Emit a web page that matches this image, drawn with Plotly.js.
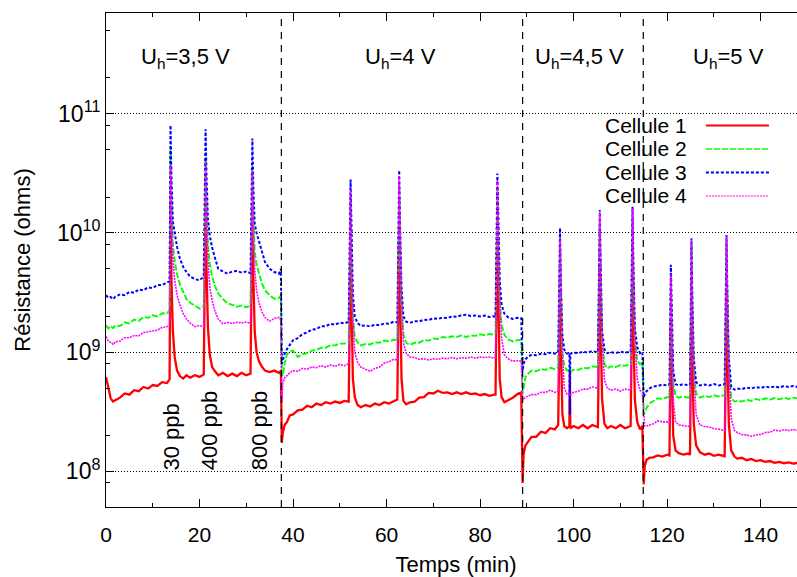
<!DOCTYPE html>
<html>
<head>
<meta charset="utf-8">
<script src="https://cdn.plot.ly/plotly-3.0.1.min.js"></script>
<style>
html,body{margin:0;padding:0;overflow:hidden;background:#fff;}
#chart{width:806px;height:577px;}
</style>
</head>
<body>
<div id="chart"></div>
<script>
// Values are in units of 1e8 ohms
const UNIT = 1e8;

// Segment 1 : Uh = 3,5 V
const t1 = [0,0.5,1,1.5,2,3,4,5,6,7,8,9,10,11,12,13,13.6,13.8,14.0,14.3,14.7,15.2,15.8,16.5,17.2,18,19,20,20.9,21.3,21.5,21.8,22.2,22.7,23.3,24,25,26,27,28,29,30,30.9,31.3,31.5,31.8,32.2,32.7,33.3,34,35,36,37,37.4];
const cell1_s1 = [6.2,4.9,4.1,3.85,3.95,4.15,4.5,4.4,4.8,4.7,5.1,4.95,5.3,5.2,5.6,5.5,5.9,180,40,15,9,7,6.3,6.0,6.4,6.1,6.4,6.2,6.5,190,50,16,9.5,7.5,6.9,6.4,6.7,6.3,6.6,6.3,6.7,6.4,6.6,170,45,15,10,8.4,7.6,7.0,6.8,7.0,6.7,7.0];
const cell2_s1 = [16.8,15.8,16.6,15.9,16.7,16.6,17.8,17.4,18.8,18.3,19.7,19.4,20.4,19.9,21.2,21.0,22.5,500,200,80,58,45,37,32,28,26,24.5,23.2,24.3,470,190,80,55,43,36,31,28,25.5,25,24,24.6,23.8,24.4,360,150,70,54,45,38,33,30,28,28.5,30];
const cell3_s1 = [30,28.5,29,27.8,29.2,30.5,30,32,31.5,33.5,33,35,34.5,36.5,36.5,38.5,39,800,300,125,100,76,61,52,47,43,41,40,43,740,300,130,95,75,62,50,47.5,45.5,47.5,48,46.5,47.5,46,620,250,120,100,85,70,57,50,47,45.5,50];
const cell4_s1 = [13.5,12.4,12.1,11.6,12.2,12.4,13.2,13.2,13.8,13.7,14.6,14.8,15.2,15.3,16.1,16.3,17,380,150,60,40,30,25,21,19,17.5,16.4,16.7,16.4,400,150,60,35,27,22,19,17.3,17.7,17.4,17.8,17.6,17.9,17.4,330,120,50,33,26,22,19.5,18.2,19.2,19.6,18.5];

// Segment 2 : Uh = 4 V
const t2 = [37.6,37.8,38.2,38.7,39.3,40,41,42,43,44,45,46,47,48,49,50,51,51.9,52.3,52.5,52.8,53.2,53.8,54.5,55.5,56.5,57.5,58.5,59.5,60.5,61.5,62.3,62.7,62.9,63.2,63.6,64.2,65,66,67,68,69,70,71,72,73,74,75,76,77,78,79,80,81,82,83,83.3,83.7,83.9,84.2,84.6,85.2,86,87,88,88.8];
const cell1_s2 = [1.73,2.1,2.45,2.6,2.95,3.0,3.25,3.3,3.55,3.45,3.7,3.6,3.8,3.7,3.85,3.75,3.9,3.85,72,20,6,4.2,3.6,3.45,3.6,3.5,3.7,3.6,3.8,3.7,3.9,4.0,88,22,6,3.9,3.65,3.8,3.85,4.15,4.2,4.55,4.5,4.75,4.55,4.6,4.45,4.6,4.45,4.6,4.45,4.5,4.35,4.45,4.3,4.4,4.4,95,25,6,4.2,3.8,3.95,4.15,4.45,4.6];
const cell2_s2 = [7,6.3,8,9.6,10.1,10.3,9.1,9.6,9.8,10.3,10.4,10.9,10.9,11.4,11.4,11.8,11.8,12.1,200,60,20,13.5,12,11.4,11.7,11.6,12.1,12.0,12.5,12.3,12.7,12.6,240,70,25,14,12,11.5,12.0,12.0,12.6,12.5,13.0,12.9,13.4,13.2,13.6,13.4,13.8,13.4,13.8,13.7,14.1,13.9,14.2,14.0,14.3,230,75,28,17,14,12.8,12.3,12.6,12.7];
const cell3_s2 = [8,8.6,9.7,10.6,11.4,12.6,13.1,14.2,14.6,15.5,15.6,16.5,16.5,17.3,17.0,17.7,17.4,18.0,280,90,30,20,17.5,16.6,16.8,16.4,17.0,16.8,17.4,17.3,18.0,17.8,335,110,35,20,18,17.6,18.2,18.1,18.7,18.6,19.2,19.0,19.5,19.3,20.0,19.8,20.4,20.6,20.1,20.3,19.9,20.3,19.7,20.0,19.8,315,110,40,25,21,19.6,19.0,19.4,19.3];
const cell4_s2 = [3.8,5.5,6.1,6.4,6.7,7.0,6.9,7.3,7.2,7.5,7.4,7.7,7.5,7.8,7.6,7.9,7.7,8.0,230,70,20,10,8.2,7.5,7.2,6.9,7.3,7.5,8.1,8.3,8.7,8.6,300,90,28,12,9.8,9.1,9.0,8.7,8.8,8.6,8.8,8.7,8.9,8.8,9.0,8.8,9.0,8.9,9.1,8.9,9.1,9.0,9.1,8.9,9.0,280,85,28,13,9.5,8.8,8.4,8.5,8.4];

// Segment 3 : Uh = 4,5 V
const t3 = [89.1,89.3,89.7,90.3,91,92,93,94,95,96,96.7,97.1,97.3,97.6,98,98.6,99.1,99.2,99.3,100,101,102,103,104,105.2,105.6,105.8,106.1,106.6,107.2,108,109,110,111,112.2,112.6,112.8,113.1,113.6,114.2,114.7];
const cell1_s3 = [0.8,1.4,1.65,1.8,1.95,1.95,2.15,2.1,2.3,2.25,2.45,27,8,3,2.4,2.3,2.4,7,2.3,2.4,2.3,2.45,2.3,2.45,2.35,54,15,4,2.5,2.3,2.4,2.3,2.45,2.3,2.4,58,15,4,2.6,2.25,2.4];
const cell2_s3 = [4.5,5.2,6.2,6.6,7.0,6.9,7.2,7.1,7.4,7.2,7.4,80,25,10,7.6,7.0,7.1,6.8,6.9,7.1,7.1,7.4,7.3,7.6,7.5,120,38,12,8,7.3,7.6,7.5,7.8,7.7,7.9,130,42,13,8.5,7.9,8.3];
const cell3_s3 = [7,8,8.7,9.2,9.5,9.4,9.7,9.6,9.9,9.7,10.0,110,35,14,10.5,9.7,9.8,3,9.7,9.9,9.8,10.1,9.9,10.2,10.0,156,50,15,10.5,9.8,10.0,9.8,10.1,9.9,10.1,166,55,16,11,9.8,10.0];
const cell4_s3 = [4.0,4.0,4.2,4.3,4.4,4.4,4.6,4.6,4.8,4.6,4.7,90,28,10,5,4.4,4.5,4.5,4.4,4.6,4.7,4.9,4.9,5.1,5.0,150,45,13,5.8,5.0,4.8,4.9,4.7,4.9,4.8,160,48,14,6,4.8,4.6];

// Segment 4 : Uh = 5 V
const t4 = [115.0,115.2,115.6,116.2,117,118,119,120,120.5,120.8,121.0,121.3,121.8,122.5,123.5,124.5,124.9,125.2,125.4,125.7,126.2,127,128,129,130,131,132.3,132.7,132.9,133.2,133.7,134.4,135,136,137,138,139,140,141,142,143,144,145,146,147,148,149,149.7];
const cell1_s4 = [0.78,1.1,1.25,1.3,1.31,1.36,1.33,1.38,1.36,19,6,2,1.5,1.42,1.38,1.41,1.38,29,8,2.5,1.65,1.45,1.38,1.41,1.35,1.38,1.34,31,9,2.5,1.5,1.33,1.28,1.3,1.24,1.27,1.22,1.24,1.2,1.22,1.18,1.2,1.17,1.19,1.16,1.18,1.15,1.17];
const cell2_s4 = [3.0,3.1,3.4,3.7,3.85,4.1,4.05,4.2,4.15,40,13,5.5,4.3,4.15,4.25,4.15,4.25,80,25,7.5,4.5,4.15,4.3,4.2,4.35,4.25,4.35,82,26,7.5,4.1,3.85,3.9,3.85,4.0,3.9,4.05,3.95,4.1,4.0,4.12,4.02,4.15,4.05,4.15,4.08,4.15,4.1];
const cell3_s4 = [4.2,4.4,4.7,4.95,5.15,5.2,5.35,5.25,5.35,54,18,7,5.4,5.25,5.4,5.25,5.35,90,28,9,5.6,5.25,5.35,5.25,5.4,5.25,5.4,96,30,9,5.1,4.85,4.95,4.9,5.05,4.95,5.1,5.0,5.15,5.05,5.15,5.05,5.2,5.1,5.2,5.1,5.2,5.15];
const cell4_s4 = [2.6,2.4,2.4,2.45,2.5,2.65,2.6,2.6,2.5,45,14,4,2.6,2.45,2.42,2.38,2.42,90,27,7,3,2.45,2.38,2.36,2.28,2.26,2.2,95,28,7,2.8,2.2,2.12,2.03,2.02,1.97,2.02,2.04,2.12,2.13,2.22,2.18,2.24,2.2,2.24,2.2,2.23,2.2];

const seriesNames = ["Cellule 1","Cellule 2","Cellule 3","Cellule 4"];
const phaseBoundaries = [37.5, 89.1, 114.9];
const phaseLabels = ["U<sub>h</sub>=3,5 V","U<sub>h</sub>=4 V","U<sub>h</sub>=4,5 V","U<sub>h</sub>=5 V"];
const doseLabels = ["30 ppb","400 ppb","800 ppb"];
const doseTimes = [14.05, 22.0, 32.9];
const yTickVals = [1e8,1e9,1e10,1e11];
const yTickText = ["10<sup>8</sup>","10<sup>9</sup>","10<sup>10</sup>","10<sup>11</sup>"];

// styles
const colors = ["#ff0000","#00ff00","#0000ff","#ff00ff"];
const dashes = ["solid","6px,2px","3px,2px","2px,1px"];
const widths = [2.3,1.9,2.0,1.6];
const legendWidths = [1.8,1.3,2.2,1.2];
const FONT = "'Liberation Sans', Arial, Helvetica, sans-serif";

const T = [...t1,...t2,...t3,...t4];
const cells = [
  [...cell1_s1,...cell1_s2,...cell1_s3,...cell1_s4],
  [...cell2_s1,...cell2_s2,...cell2_s3,...cell2_s4],
  [...cell3_s1,...cell3_s2,...cell3_s3,...cell3_s4],
  [...cell4_s1,...cell4_s2,...cell4_s3,...cell4_s4]
];

const traces = cells.map((vals, i) => ({
  type: "scatter", mode: "lines", name: seriesNames[i],
  x: T, y: vals.map(v => v * UNIT),
  line: {color: colors[i], width: widths[i], dash: dashes[i]},
  showlegend: false, hoverinfo: "skip"
}));

// y minor ticks at 2,5,8 per decade
const minorVals = [];
for (let e = 7; e <= 11; e++) { [2,5,8].forEach(m => minorVals.push(m * Math.pow(10, e))); }

const shapes = phaseBoundaries.map(x => ({
  type: "line", xref: "x", yref: "paper", x0: x, x1: x, y0: 0, y1: 1,
  line: {color: "#000", width: 1.2, dash: "7px,6px"}
}));

const annotations = [];
const phaseX = [16.9, 62.9, 101.2, 133.2];
phaseLabels.forEach((txt, i) => annotations.push({
  text: txt, x: phaseX[i], xref: "x", y: 0.908, yref: "paper",
  showarrow: false, xanchor: "center", yanchor: "middle",
  font: {family: FONT, size: 22, color: "#000"}
}));
doseLabels.forEach((txt, i) => annotations.push({
  text: txt, x: doseTimes[i], xref: "x", y: 8.0, yref: "y",
  showarrow: false, textangle: -90, xanchor: "center", yanchor: "bottom",
  borderpad: 0, font: {family: FONT, size: 22, color: "#000"}
}));

// legend (gnuplot style: text then sample)
const legY = [0.7723, 0.7247, 0.6771, 0.6296];
seriesNames.forEach((nm, i) => {
  annotations.push({
    text: nm, x: 0.8314, xref: "paper", y: legY[i], yref: "paper",
    showarrow: false, xanchor: "right", yanchor: "middle", borderpad: 0,
    font: {family: FONT, size: 21, color: "#000"}
  });
  shapes.push({
    type: "line", xref: "paper", yref: "paper", x0: 0.857, x1: 0.947, y0: legY[i], y1: legY[i],
    line: {color: colors[i], width: legendWidths[i], dash: dashes[i]}
  });
});

const layout = {
  width: 806, height: 577,
  margin: {l: 106, r: 0, t: 13, b: 70, pad: 0},
  paper_bgcolor: "#fff", plot_bgcolor: "#fff",
  font: {family: FONT, size: 21, color: "#000"},
  showlegend: false,
  xaxis: {
    range: [0, 149.7], tick0: 0, dtick: 20, ticks: "inside", ticklen: 8, tickcolor: "#000",
    showline: true, linecolor: "#000", linewidth: 1, mirror: "allticks",
    showgrid: false, zeroline: false,
    tickfont: {family: FONT, size: 21}, ticklabelstandoff: 9,
    minor: {dtick: 10, ticks: "inside", ticklen: 4, tickcolor: "#000", showgrid: false},
    title: {text: "Temps (min)", font: {family: FONT, size: 22}, standoff: 14}
  },
  yaxis: {
    type: "log", range: [7.701, 11.845],
    tickmode: "array", tickvals: yTickVals, ticktext: yTickText,
    ticks: "inside", ticklen: 8, tickcolor: "#000",
    showline: true, linecolor: "#000", linewidth: 1, mirror: "allticks",
    showgrid: true, gridcolor: "#000", gridwidth: 1, griddash: "1px,2px",
    zeroline: false,
    tickfont: {family: FONT, size: 23},
    minor: {tickvals: minorVals, ticks: "inside", ticklen: 4, tickcolor: "#000", showgrid: false},
    title: {text: "Résistance (ohms)", font: {family: FONT, size: 22}, standoff: 20}
  },
  shapes: shapes,
  annotations: annotations
};

Plotly.newPlot("chart", traces, layout, {displayModeBar: false, staticPlot: true});
</script>
</body>
</html>
